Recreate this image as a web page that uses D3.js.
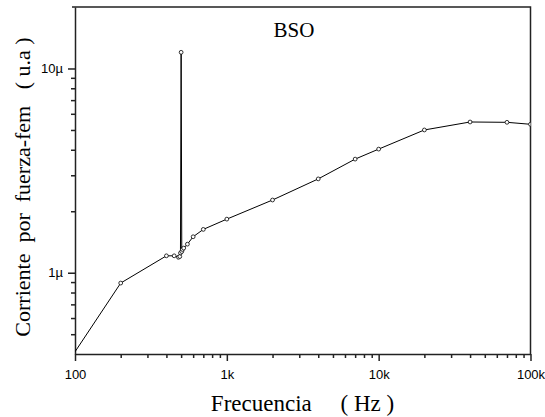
<!DOCTYPE html>
<html><head><meta charset="utf-8">
<script src="https://cdn.jsdelivr.net/npm/d3@7"></script>
<style>body{margin:0;background:#fff;overflow:hidden}</style>
</head><body>
<svg id="c" width="545" height="417"></svg>
<script>
const freqs = [100,200,400,450,480,490,495,500,505,510,520,550,600,700,1000,2000,4000,7000,10000,20000,40000,70000,100000];
const current = [0.41,0.89,1.21,1.21,1.19,1.20,1.25,12.0,1.27,1.30,1.32,1.38,1.50,1.63,1.83,2.27,2.88,3.60,4.03,5.0,5.47,5.45,5.33];
const xMajor = [100,1000,10000,100000];
const xMajorLabels = ["100","1k","10k","100k"];
const xMinor = [200,300,400,500,600,700,800,900,2000,3000,4000,5000,6000,7000,8000,9000,20000,30000,40000,50000,60000,70000,80000,90000];
const yMajor = [1,10];
const yMajorLabels = ["1µ","10µ"];
const yMinor = [0.5,0.6,0.7,0.8,0.9,2,3,4,5,6,7,8,9];
const title = "BSO";
const xTitle = "Frecuencia\u00a0\u00a0\u00a0\u00a0\u00a0( Hz )";
const yTitle = "Corriente\u00a0\u00a0por\u00a0\u00a0fuerza-fem\u00a0\u00a0\u00a0( u.a )";

const L = 75, R = 530.5, T = 7, B = 354;
const svg = d3.select("#c");
const x = d3.scaleLog().domain([100, 100000]).range([L, R]);
const y = d3.scaleLog().domain([0.4, 20]).range([B, T]);
const axisColor = "#222";

svg.append("defs").append("clipPath").attr("id","clip")
  .append("rect").attr("x",L).attr("y",T).attr("width",R-L).attr("height",B-T);

const gx = svg.append("g").attr("transform",`translate(0,${B})`);
gx.call(d3.axisBottom(x).tickValues(xMajor).tickFormat((d,i)=>xMajorLabels[i]).tickSize(7).tickSizeOuter(0).tickPadding(9));
gx.append("g").call(d3.axisBottom(x).tickValues(xMinor).tickFormat("").tickSize(4).tickSizeOuter(0))
  .select(".domain").remove();
gx.selectAll("text").attr("font-family","Liberation Sans, Arial, sans-serif").attr("font-size",13).attr("fill","#000");

const gy = svg.append("g").attr("transform",`translate(${L},0)`);
gy.call(d3.axisLeft(y).tickValues(yMajor).tickFormat((d,i)=>yMajorLabels[i]).tickSize(7).tickSizeOuter(0).tickPadding(5));
gy.append("g").call(d3.axisLeft(y).tickValues(yMinor).tickFormat("").tickSize(4).tickSizeOuter(0))
  .select(".domain").remove();
gy.selectAll("text").attr("font-family","Liberation Sans, Arial, sans-serif").attr("font-size",13).attr("fill","#000");

svg.selectAll(".domain, .tick line").attr("stroke",axisColor).attr("stroke-width",1.5);

svg.append("path").attr("d",`M${L-3},${T}H${R}V${B}`).attr("fill","none")
  .attr("stroke",axisColor).attr("stroke-width",1.5);

const pts = freqs.map((f,i)=>[f,current[i]]);
const plot = svg.append("g").attr("clip-path","url(#clip)");
plot.append("path").datum(pts)
  .attr("d", d3.line().x(d=>x(d[0])).y(d=>y(d[1])))
  .attr("fill","none").attr("stroke","#000").attr("stroke-width",1);
plot.selectAll("circle").data(pts.slice(1)).join("circle")
  .attr("cx",d=>x(d[0])).attr("cy",d=>y(d[1])).attr("r",1.9)
  .attr("fill","#fff").attr("stroke","#000").attr("stroke-width",0.8);

svg.append("text").attr("x",294).attr("y",36.5).attr("text-anchor","middle")
  .attr("font-family","Liberation Serif, Times New Roman, serif").attr("font-size",21).text(title);
svg.append("text").attr("x",302.5).attr("y",410.5).attr("text-anchor","middle")
  .attr("font-family","Liberation Serif, Times New Roman, serif").attr("font-size",23).text(xTitle);
svg.append("text").attr("transform","translate(30,187) rotate(-90)").attr("text-anchor","middle")
  .attr("font-family","Liberation Serif, Times New Roman, serif").attr("font-size",22).text(yTitle);
</script>
</body></html>
